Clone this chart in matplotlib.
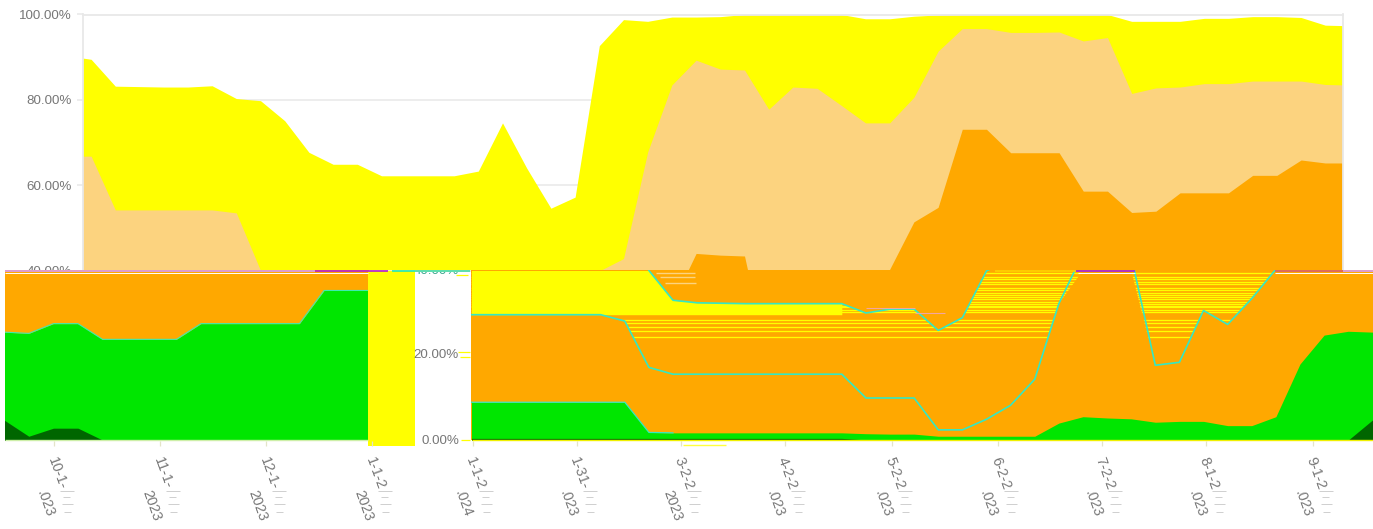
import numpy as np
import matplotlib
matplotlib.use("Agg")
import matplotlib.pyplot as plt
from matplotlib.patches import Rectangle

plt.rcParams['font.family'] = ['Liberation Sans', 'DejaVu Sans']

# ---------- data (cumulative share in percent) ----------
days = [0.0] + [2.5 + 7.01 * k for k in range(52)] + [365.0]

yellow_top = [89.8, 89.5, 83.2, 83.1, 83.0, 83.0, 83.3, 80.3, 79.8, 75.1, 67.7, 64.9, 64.9, 62.2,
              62.2, 62.2, 62.2, 63.3, 74.6, 64.0, 54.6, 57.2, 92.7, 98.8, 98.4, 99.4, 99.4, 99.5,
              100, 100, 100, 100, 100, 99.0, 99.0, 99.6, 99.9, 100, 100, 100, 100, 100, 100, 100,
              98.4, 98.4, 98.4, 99.1, 99.1, 99.5, 99.5, 99.3, 97.5, 97.4]
light_top = [66.8, 66.8, 54.2, 54.2, 54.2, 54.2, 54.2, 53.5, 40.0, 33.0, 32.4, 32.3, 32.2, 32.2,
             32.2, 32.2, 32.2, 30.0, 30.9, 30.9, 25.9, 28.9, 39.9, 42.8, 67.8, 83.5, 89.3, 87.2,
             87.0, 77.8, 83.0, 82.7, 78.7, 74.6, 74.6, 80.6, 91.4, 96.7, 96.7, 95.8, 95.8, 95.9,
             93.8, 94.6, 81.5, 82.8, 83.0, 83.8, 83.8, 84.4, 84.4, 84.4, 83.6, 83.5]
orange_top = [29.6, 29.6, 29.6, 29.6, 29.6, 29.6, 29.6, 28.1, 17.2, 15.6, 15.6, 15.6, 15.6, 15.6,
              15.6, 15.6, 15.6, 10.0, 10.0, 10.0, 2.5, 2.5, 5.0, 8.3, 14.4, 32.2, 44.0, 43.6,
              43.4, 17.7, 18.4, 30.6, 27.3, 33.4, 40.3, 51.4, 54.8, 73.1, 73.1, 67.6, 67.6, 67.6,
              58.6, 58.6, 53.6, 53.9, 58.2, 58.2, 58.2, 62.3, 62.3, 65.9, 65.2, 65.2]
green_top = [9.0, 9.0, 9.0, 9.0, 9.0, 9.0, 9.0, 9.0, 1.9, 1.8, 1.8, 1.8, 1.8, 1.8, 1.8, 1.8, 1.8,
             1.6, 1.5, 1.5, 1.0, 1.0, 1.0, 1.0, 1.0, 4.1, 5.6, 5.3, 5.1, 4.3, 4.5, 4.5, 3.5, 3.5,
             5.6, 18.0, 24.8, 25.7, 25.5, 25.2, 27.5, 27.5, 23.8, 23.8, 23.8, 23.8, 27.5, 27.5,
             27.5, 27.5, 27.5, 35.3, 35.3, 35.3]
dark_top = [0.5] * 17 + [0.15] * 20 + [0.1, 4.8, 1.0, 2.9, 2.9] + [0.1] * 12

y_ticks = [40, 60, 80, 100]
tick_days = [276.2, 306.3, 336.5, 366.8, 0.4, 30.7, 60.9, 91.0, 122.3, 153.0, 183.3, 213.6, 244.6]
label_heads = ['10-1-', '11-1-', '12-1-', '1-1-2', '1-1-2', '1-31-', '3-2-2', '4-2-2', '5-2-2',
               '6-2-2', '7-2-2', '8-1-2', '9-1-2']
label_tails = ['.023', '2023', '2023', '2023', '.024', '.023', '2023', '.023', '.023', '.023',
               '.023', '.023', '.023']
stripe_levels = [24.3, 25.7, 26.6, 27.6, 28.3, 30.3, 30.8, 31.3, 31.7, 32.2, 32.7, 33.3, 33.8,
                 34.3, 34.8, 35.3, 36.0, 36.8, 37.4, 37.9, 38.5, 39.3]

# ---------- styles ----------
W, H = 1373, 529
C_YELLOW, C_LIGHT, C_ORANGE = '#FFFF00', '#FCD37F', '#FFA800'
C_GREEN, C_DARK, C_CYAN = '#00E600', '#006600', '#34E8C4'
C_TEXT, C_GRID = '#777777', '#E8E8E8'
FS = 9.6
FS_X = 10.3
R_PX_PER_DAY = 3.44
L_PX_PER_DAY = 3.51
L_START_DAY = 262.1

d = np.array(days)
Y, L, O, G, D = map(np.array, (yellow_top, light_top, orange_top, green_top, dark_top))

fig = plt.figure(figsize=(W / 100, H / 100), dpi=100, facecolor='white')


def px_axes(l, t, r, b, z):
    ax = fig.add_axes([l / W, 1 - b / H, (r - l) / W, (b - t) / H], zorder=z)
    return ax


# ---------- upper part of the plot ----------
top = px_axes(82.5, 14.5, 1342.5, 270.5, 1)
top.set_xlim(0, 365)
top.set_ylim(40, 100)
top.set_axisbelow(True)
top.grid(axis='y', color=C_GRID, lw=1.1)
top.fill_between(d, 0, Y, color=C_YELLOW, lw=0)
top.fill_between(d, 0, L, color=C_LIGHT, lw=0)
top.fill_between(d, 0, O, color=C_ORANGE, lw=0)
top.set_xticks([])
top.set_yticks(y_ticks)
top.set_yticklabels([f'{v:.2f}%' for v in y_ticks], fontsize=FS, color=C_TEXT)
top.tick_params(axis='y', length=4.5, width=1.1, color=C_GRID, pad=3)
for s in top.spines.values():
    s.set_color(C_GRID)
    s.set_linewidth(1.3)

# ---------- lower part, right-hand strip ----------
rb = px_axes(471.5, 270.5, 1373, 440.5, 2)
rb.set_xlim(0, (1373 - 471.5) / R_PX_PER_DAY)
rb.set_ylim(0, 40)
rb.axis('off')
rb.fill_between(d, 0, 40, color=C_ORANGE, lw=0)
rb.fill_between(d[:17], np.maximum(O, 29.6)[:17], np.minimum(L, 40)[:17], color=C_YELLOW, lw=0)
mask = rb.fill_between(d, np.minimum(O, 40), np.minimum(L, 40), color='none', lw=0)
stripes = rb.hlines(stripe_levels, 0, 365, color=C_YELLOW, lw=0.95)
stripes.set_clip_path(mask.get_paths()[0], rb.transData)
rb.fill_between(d, 0, G, color=C_GREEN, lw=0)
rb.fill_between(d, 0, D, color=C_DARK, lw=0)
rb.plot(d, L, color=C_CYAN, lw=1.2, solid_joinstyle='round')
rb.plot(d[:35], O[:35], color=C_CYAN, lw=1.2, solid_joinstyle='round')
rb.plot(d[:10], G[:10], color=C_CYAN, lw=0.9)

# ---------- lower part, left-hand strip ----------
lb = px_axes(5, 270.5, 368, 440.5, 2)
lb.set_xlim(L_START_DAY, L_START_DAY + (368 - 5) / L_PX_PER_DAY)
lb.set_ylim(0, 40)
lb.axis('off')
lb_x = np.r_[d, 370.0]
lb_g = np.r_[G, G[-1]]
lb.fill_between(lb_x, 0, 40, color=C_ORANGE, lw=0)
lb.fill_between(lb_x, 0, lb_g, color=C_GREEN, lw=0)
lb.fill_between(d, 0, D, color=C_DARK, lw=0)
lb.plot(lb_x, lb_g, color='#3CEBB0', lw=0.8)

# ---------- overlay in pixel coordinates ----------
ov = fig.add_axes([0, 0, 1, 1], zorder=10)
ov.set_xlim(0, W)
ov.set_ylim(H, 0)
ov.axis('off')
ov.patch.set_alpha(0)

ov.add_patch(Rectangle((368, 271), 47, 175, color=C_YELLOW, lw=0, zorder=1))

# seam between the two parts
seam = [(5, 315, '#D79BF5'), (315, 388, '#B41ED2'), (392, 415, '#22E8B4'), (415, 470, '#45DCA8'),
        (995, 1076, '#FFD000'), (1076, 1135, '#A41EE0'), (1275, 1343, '#D8606C'),
        (1343, 1373, '#D79BF5')]
for x0, x1, c in seam:
    ov.hlines(270.8, x0, x1, color=c, lw=1.2, zorder=3)
for x0, x1 in [(5, 368), (1078, 1135), (1275, 1373)]:
    ov.hlines(272.6, x0, x1, color='white', lw=0.7, zorder=3)

# light and pink stray rows in the strip
for y, x0, x1 in [(272.7, 656, 695), (277, 660, 695), (282.7, 665, 696)]:
    ov.hlines(y, x0, x1, color=C_LIGHT, lw=1.0, zorder=2)
for y, x0, x1 in [(307.5, 866, 915), (312.5, 915, 945)]:
    ov.hlines(y, x0, x1, color='#F2A6A0', lw=0.8, zorder=2)

# base lines
ov.hlines(440.2, 471.5, 1373, color='#F0F000', lw=1.0, zorder=3)
ov.hlines(440.4, 5, 368, color='#CDEFA8', lw=1.0, zorder=3)
ov.hlines(444.8, 683, 726, color='#FFFF40', lw=1.0, zorder=3)

# y labels that fell into the strip
for val, yp in [(20, 355.5), (0, 441)]:
    ov.text(459, yp, f'{val:.2f}%', fontsize=FS, color=C_TEXT, ha='right', va='center', zorder=5)
cut = ov.text(459, 270.5, '40.00%', fontsize=FS, color='#3FA88F', ha='right', va='center',
              zorder=5, clip_on=True)
cut.set_clip_path(Rectangle((405, 271.5), 60, 6, transform=ov.transData))
for y, x0, x1 in [(352, 458, 470), (357, 460, 470), (440, 461, 470), (275, 456, 468)]:
    ov.hlines(y, x0, x1, color=C_YELLOW, lw=0.9, zorder=4)

# x ticks and the broken labels
for day, head, tail in zip(tick_days, label_heads, label_tails):
    if day < 262:
        x = 471.5 + R_PX_PER_DAY * day
    else:
        x = 5 + L_PX_PER_DAY * (day - L_START_DAY)
    ov.vlines(x, 441, 445.5, color='#E4E4C8', lw=0.9, zorder=2)
    ov.text(x - 3, 458, head, rotation=-70, rotation_mode='anchor', ha='left', va='center',
            fontsize=FS_X, color=C_TEXT, zorder=5)
    ov.text(x - 14, 491, tail, rotation=-70, rotation_mode='anchor', ha='left', va='center',
            fontsize=FS_X, color=C_TEXT, zorder=5)
    for dy, x0, x1 in [(491, 6, 20), (497, 9, 16), (504, 8, 19), (512, 10, 17)]:
        ov.hlines(dy, x + x0, x + x1, color='#C8C8C8', lw=0.6, zorder=4)

fig.savefig('out.png', dpi=100, facecolor='white')
